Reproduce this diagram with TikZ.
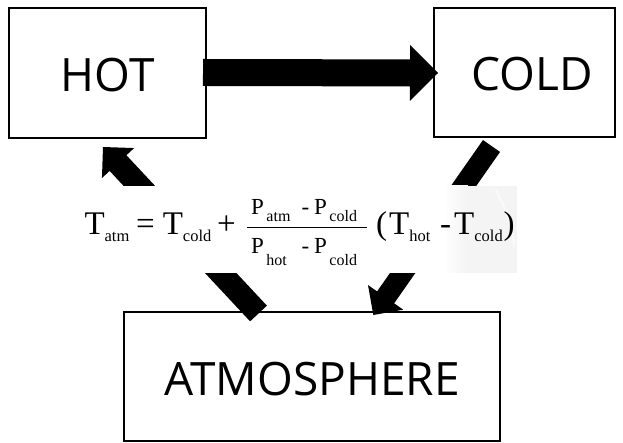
\documentclass[tikz,border=0pt]{standalone}
\usepackage{fontspec}
\setmainfont{Liberation Serif}
\newfontfamily\boxfont{Open Sans}
\usetikzlibrary{calc}
\newcommand\fsz[1]{\fontsize{#1}{#1}\selectfont}
\newcommand\sbx[4]{\kern#1\raisebox{-#2}{\fsz{#3}#4}}
% block arrow: tail, tip, shaft half width, head length, head half width
\newcommand\blockarrow[5]{%
  \path coordinate (bab) at ($(#2)!#4!(#1)$);
  \fill[black] ($(#1)!#3!90:(#2)$) -- ($(bab)!#3!-90:(#1)$) -- ($(bab)!#5!-90:(#1)$)
    -- (#2) -- ($(bab)!#5!90:(#1)$) -- ($(bab)!#3!90:(#1)$) -- ($(#1)!#3!-90:(#2)$) -- cycle;}
\begin{document}
\begin{tikzpicture}[x=1pt,y=-1pt,
  boxnode/.style={draw=black,line width=1.2pt,inner sep=0pt,font=\boxfont\fsz{46},text height=37pt,text depth=0pt},
  fm/.style={inner sep=0pt,anchor=base west}]
\useasboundingbox (0,0) rectangle (623,443);
\fill[white] (0,0) rectangle (623,443);

% boxes
\node[boxnode,minimum width=197pt,minimum height=130pt] (hot) at (107.5,73) {HOT};
\node[boxnode,minimum width=181pt,minimum height=129pt] (cold) at (524.5,72.5) {\kern15pt COLD};
\node[boxnode,minimum width=376pt,minimum height=129pt] (atm) at (312,376.5) {ATMOSPHERE};

% arrow end points
\coordinate (hotout) at (203,72.5);
\coordinate (coldin) at (438,73);
\coordinate (coldout) at (491.5,146);
\coordinate (atmin) at (373.3,315);
\coordinate (atmout) at (258.5,313.5);
\coordinate (hotin) at (103,147);

\blockarrow{hotout}{coldin}{13.5pt}{28pt}{28pt}
\blockarrow{coldout}{atmin}{10.4pt}{21.5pt}{21.5pt}
\blockarrow{atmout}{hotin}{11.5pt}{22pt}{22pt}

% formula background
\fill[white] (78,186) rectangle (443,273);
\shade[left color=white,right color=gray!9] (443,186) rectangle (468,273);
\fill[gray!9] (468,186) rectangle (517,273);
\draw[gray!5,line width=2.5pt] (496,190) .. controls (506,210) and (512,225) .. (514,245);

% formula
\node[fm,font=\fsz{33}] (tatm) at (84.3,235) {T\sbx{0pt}{6.7pt}{16.5}{atm}};
\node[fm,font=\fsz{33}] (eqs) at (136,235) {=};
\node[fm,font=\fsz{33}] (tcold) at (162.6,235) {T\sbx{0pt}{6.7pt}{16.5}{cold}};
\node[fm,font=\fsz{33}] (plus) at (217,235) {+};
\coordinate (barl) at (247,227.3);
\coordinate (barr) at (367,227.3);
\draw[line width=1.3pt] (barl) -- (barr);
\node[fm,font=\fsz{23}] (npatm) at (251,215) {P\sbx{2.5pt}{6.7pt}{16}{atm}};
\node[fm,font=\fsz{23}] (nminus) at (301.5,215) {-};
\node[fm,font=\fsz{23}] (npcold) at (314,215) {P\sbx{2.5pt}{6.7pt}{16}{cold}};
\node[fm,font=\fsz{23}] (dphot) at (251,253.3) {P\sbx{2.5pt}{12pt}{16}{hot}};
\node[fm,font=\fsz{23}] (dminus) at (301.5,253.3) {-};
\node[fm,font=\fsz{23}] (dpcold) at (314,253.3) {P\sbx{2.5pt}{12pt}{16}{cold}};
\node[fm,font=\fsz{33}] (popen) at (376,235) {(};
\node[fm,font=\fsz{33}] (thot) at (389,235) {T\sbx{0pt}{6.7pt}{16.5}{hot}};
\node[fm,font=\fsz{33}] (pminus) at (440,235) {-};
\node[fm,font=\fsz{33}] (tcold2) at (454,235) {T\sbx{0pt}{6.7pt}{16.5}{cold}};
\node[fm,font=\fsz{33}] (pclose) at (503.5,235) {)};
\end{tikzpicture}
\end{document}
